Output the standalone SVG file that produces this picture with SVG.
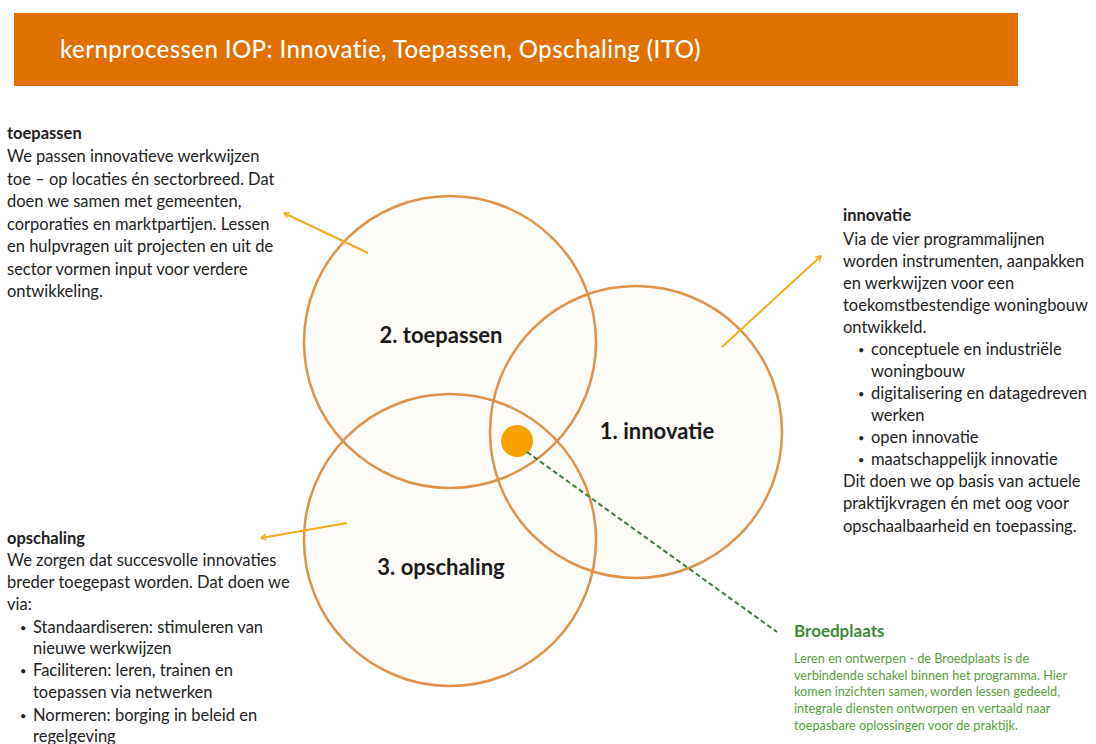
<svg xmlns="http://www.w3.org/2000/svg" width="1096" height="744" viewBox="0 0 1096 744">
<defs>
<marker id="arr" viewBox="0 0 10 10" refX="8" refY="5" markerWidth="7" markerHeight="7" markerUnits="userSpaceOnUse" orient="auto">
<path d="M1,1 L8,5 L1,9" fill="none" stroke="#F2AA1E" stroke-width="2" stroke-linecap="round" stroke-linejoin="round"/>
</marker>
<style>
.t{font-family:Lato,"Liberation Sans",sans-serif;font-size:16.5px;fill:#222}
.b{font-size:11px}
.h{font-weight:700}
.lbl{font-family:Lato,"Liberation Sans",sans-serif;font-size:22px;font-weight:700;fill:#1a1a1a;text-anchor:middle}
.fill{fill:#fdfbf7;stroke:none}
.ring{fill:none;stroke:#E0914A;stroke-width:2.5}
.ya{stroke:#F2AA1E;stroke-width:2;fill:none;marker-end:url(#arr)}
.g{font-family:Lato,"Liberation Sans",sans-serif;fill:#55a03a;font-size:12.7px}
</style>
</defs>
<rect width="1096" height="744" fill="#ffffff"/>
<g id="header">
<rect x="14" y="13" width="1004" height="73" fill="#E07000"/>
<text x="60" y="58" font-family="Lato,'Liberation Sans',sans-serif" font-size="24" font-weight="500" letter-spacing="0.4" fill="#ffffff">kernprocessen IOP: Innovatie, Toepassen, Opschaling (ITO)</text>
</g>
<g id="fills">
<circle class="fill" cx="450" cy="342" r="146"/>
<circle class="fill" cx="636" cy="432" r="146"/>
<circle class="fill" cx="450" cy="540" r="146"/>
</g>
<g id="node-toepassen">
<circle class="ring" cx="450" cy="342" r="146"/>
<text class="lbl" x="441" y="343">2. toepassen</text>
</g>
<g id="node-innovatie">
<circle class="ring" cx="636" cy="432" r="146"/>
<text class="lbl" x="657" y="439">1. innovatie</text>
</g>
<g id="node-opschaling">
<circle class="ring" cx="450" cy="540" r="146"/>
<text class="lbl" x="441" y="575">3. opschaling</text>
</g>
<g id="node-broedplaats-dot">
<circle cx="517" cy="441" r="16" fill="#F7A000"/>
</g>
<g id="connectors">
<line class="ya" x1="368" y1="253" x2="284" y2="213"/>
<line class="ya" x1="722" y1="347" x2="821" y2="256"/>
<line class="ya" x1="347" y1="523" x2="261" y2="538"/>
<line x1="527" y1="452" x2="777" y2="632" stroke="#3A7D3A" stroke-width="2" stroke-dasharray="5 3"/>
</g>
<g id="text-toepassen">
<text class="t h" x="7" y="139">toepassen</text>
<text class="t" x="7" y="162">We passen innovatieve werkwijzen</text>
<text class="t" x="7" y="185">toe – op locaties én sectorbreed. Dat</text>
<text class="t" x="7" y="207">doen we samen met gemeenten,</text>
<text class="t" x="7" y="230">corporaties en marktpartijen. Lessen</text>
<text class="t" x="7" y="252">en hulpvragen uit projecten en uit de</text>
<text class="t" x="7" y="275">sector vormen input voor verdere</text>
<text class="t" x="7" y="297">ontwikkeling.</text>
</g>
<g id="text-innovatie">
<text class="t h" x="843" y="221">innovatie</text>
<text class="t" x="843" y="245">Via de vier programmalijnen</text>
<text class="t" x="843" y="267">worden instrumenten, aanpakken</text>
<text class="t" x="843" y="289">en werkwijzen voor een</text>
<text class="t" x="843" y="311">toekomstbestendige woningbouw</text>
<text class="t" x="843" y="333">ontwikkeld.</text>
<text class="t b" x="858" y="354">•</text><text class="t" x="871" y="355">conceptuele en industriële</text>
<text class="t" x="871" y="377">woningbouw</text>
<text class="t b" x="858" y="398">•</text><text class="t" x="871" y="399">digitalisering en datagedreven</text>
<text class="t" x="871" y="421">werken</text>
<text class="t b" x="858" y="442">•</text><text class="t" x="871" y="443">open innovatie</text>
<text class="t b" x="858" y="464">•</text><text class="t" x="871" y="465">maatschappelijk innovatie</text>
<text class="t" x="843" y="487">Dit doen we op basis van actuele</text>
<text class="t" x="843" y="509">praktijkvragen én met oog voor</text>
<text class="t" x="843" y="532">opschaalbaarheid en toepassing.</text>
</g>
<g id="text-opschaling">
<text class="t h" x="7" y="544">opschaling</text>
<text class="t" x="7" y="566">We zorgen dat succesvolle innovaties</text>
<text class="t" x="7" y="588">breder toegepast worden. Dat doen we</text>
<text class="t" x="7" y="610">via:</text>
<text class="t b" x="20" y="632">•</text><text class="t" x="33" y="633">Standaardiseren: stimuleren van</text>
<text class="t" x="33" y="654">nieuwe werkwijzen</text>
<text class="t b" x="20" y="675">•</text><text class="t" x="33" y="676">Faciliteren: leren, trainen en</text>
<text class="t" x="33" y="698">toepassen via netwerken</text>
<text class="t b" x="20" y="720">•</text><text class="t" x="33" y="721">Normeren: borging in beleid en</text>
<text class="t" x="33" y="742">regelgeving</text>
</g>
<g id="text-broedplaats">
<text x="794" y="637" font-family="Lato,'Liberation Sans',sans-serif" font-size="17" font-weight="700" fill="#3E8A3A">Broedplaats</text>
<text class="g" x="794" y="663">Leren en ontwerpen - de Broedplaats is de</text>
<text class="g" x="794" y="680">verbindende schakel binnen het programma. Hier</text>
<text class="g" x="794" y="696">komen inzichten samen, worden lessen gedeeld,</text>
<text class="g" x="794" y="713">integrale diensten ontworpen en vertaald naar</text>
<text class="g" x="794" y="730">toepasbare oplossingen voor de praktijk.</text>
</g>
</svg>
